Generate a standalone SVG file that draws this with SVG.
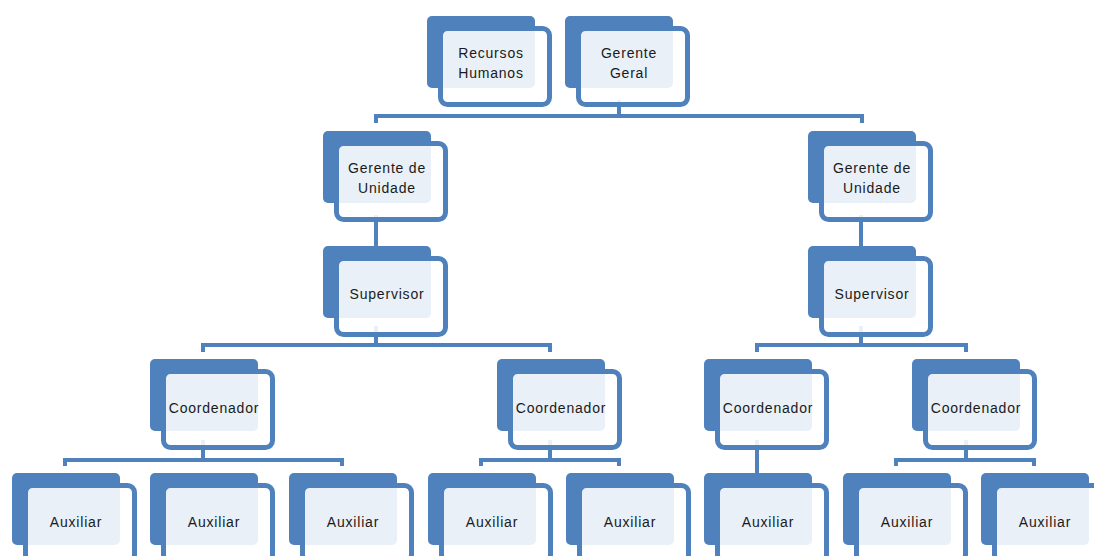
<svg xmlns="http://www.w3.org/2000/svg" xmlns:xlink="http://www.w3.org/1999/xlink" width="1094" height="556" viewBox="0 0 1094 556">
<style>
.back{fill:#4F81BD}
.front{fill:#FFFFFF;fill-opacity:0.88;stroke:#4F81BD;stroke-width:5}
.conn{fill:none;stroke:#4F81BD;stroke-width:4;stroke-linejoin:miter}
text{font-family:"Liberation Sans",Arial,sans-serif;font-size:14px;letter-spacing:0.8px;fill:#1a1a1a;text-anchor:middle}
</style>
<defs>
<g id="box">
<rect class="back" x="0" y="0" width="108" height="72" rx="5"/>
<rect class="front" x="13.5" y="12.5" width="109" height="76" rx="7"/>
</g>
</defs>
<rect width="1094" height="556" fill="#FFFFFF"/>
<g id="connectors">
<path class="conn" d="M619,100 V116 M376,123 V116 H862 V123"/>
<path class="conn" d="M376,215 V247"/>
<path class="conn" d="M861,215 V247"/>
<path class="conn" d="M376,326 V345 M203,352 V345 H550 V352"/>
<path class="conn" d="M861,326 V345 M757,352 V345 H966 V352"/>
<path class="conn" d="M203,440 V460 M65,466 V460 H342 V466"/>
<path class="conn" d="M550,440 V460 M481,466 V460 H619 V466"/>
<path class="conn" d="M757,440 V475"/>
<path class="conn" d="M966,440 V460 M896,466 V460 H1034 V466"/>
</g>
<g id="n-rh" transform="translate(427,16)"><use xlink:href="#box"/><text x="64" y="42">Recursos</text><text x="64" y="62">Humanos</text></g>
<g id="n-gg" transform="translate(565,16)"><use xlink:href="#box"/><text x="64" y="42">Gerente</text><text x="64" y="62">Geral</text></g>
<g id="n-gu1" transform="translate(323,131)"><use xlink:href="#box"/><text x="64" y="42">Gerente de</text><text x="64" y="62">Unidade</text></g>
<g id="n-gu2" transform="translate(808,131)"><use xlink:href="#box"/><text x="64" y="42">Gerente de</text><text x="64" y="62">Unidade</text></g>
<g id="n-sup1" transform="translate(323,246)"><use xlink:href="#box"/><text x="64" y="53">Supervisor</text></g>
<g id="n-sup2" transform="translate(808,246)"><use xlink:href="#box"/><text x="64" y="53">Supervisor</text></g>
<g id="n-co1" transform="translate(150,359)"><use xlink:href="#box"/><text x="64" y="54">Coordenador</text></g>
<g id="n-co2" transform="translate(497,359)"><use xlink:href="#box"/><text x="64" y="54">Coordenador</text></g>
<g id="n-co3" transform="translate(704,359)"><use xlink:href="#box"/><text x="64" y="54">Coordenador</text></g>
<g id="n-co4" transform="translate(912,359)"><use xlink:href="#box"/><text x="64" y="54">Coordenador</text></g>
<g id="n-a1" transform="translate(12,473)"><use xlink:href="#box"/><text x="64" y="54">Auxiliar</text></g>
<g id="n-a2" transform="translate(150,473)"><use xlink:href="#box"/><text x="64" y="54">Auxiliar</text></g>
<g id="n-a3" transform="translate(289,473)"><use xlink:href="#box"/><text x="64" y="54">Auxiliar</text></g>
<g id="n-a4" transform="translate(428,473)"><use xlink:href="#box"/><text x="64" y="54">Auxiliar</text></g>
<g id="n-a5" transform="translate(566,473)"><use xlink:href="#box"/><text x="64" y="54">Auxiliar</text></g>
<g id="n-a6" transform="translate(704,473)"><use xlink:href="#box"/><text x="64" y="54">Auxiliar</text></g>
<g id="n-a7" transform="translate(843,473)"><use xlink:href="#box"/><text x="64" y="54">Auxiliar</text></g>
<g id="n-a8" transform="translate(981,473)"><use xlink:href="#box"/><text x="64" y="54">Auxiliar</text></g>
</svg>
